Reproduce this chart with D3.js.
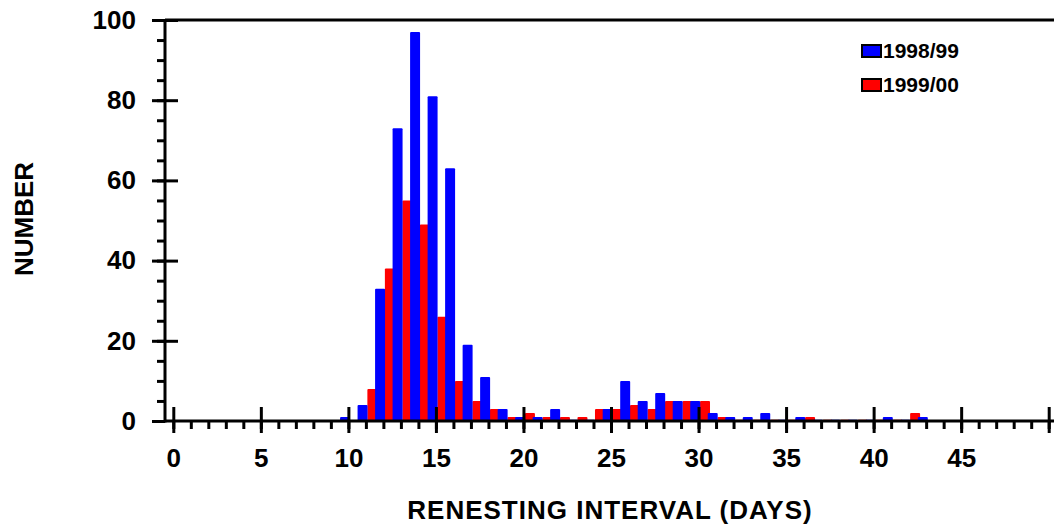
<!DOCTYPE html>
<html>
<head>
<meta charset="utf-8">
<script src="https://cdn.jsdelivr.net/npm/d3@7"></script>
<style>
	body { margin: 0; background: #fff; }
	text { font-family: Arial, "Liberation Sans", sans-serif; font-weight: bold; fill: #000; }
</style>
</head>
<body>
<div id="chart"></div>
<script>

// Renesting interval counts, one value per day
var days   = [10, 11, 12, 13, 14, 15, 16, 17, 18, 19, 20, 21, 22, 23, 24, 25, 26,
              27, 28, 29, 30, 31, 32, 33, 34, 35, 36, 37, 38, 39, 40, 41, 42, 43];
var season1 = [1, 4, 33, 73, 97, 81, 63, 19, 11, 3, 1, 1, 3, 0.3, 0.3, 3, 10,
              5, 7, 5, 5, 2, 1, 1, 2, 0.3, 1, 0.3, 0.3, 0.3, 0.3, 1, 0.3, 1];
var season2 = [0, 8, 38, 55, 49, 26, 10, 5, 3, 1, 2, 1, 1, 1, 3, 3, 4,
              3, 5, 5, 5, 1, 0.3, 0.3, 0.3, 0.3, 1, 0.3, 0.3, 0.3, 0.3, 0.3, 2, 0];
var seriesNames = ['1998/99', '1999/00'];
var seriesColors = ['#0000ff', '#ff0000'];
var xTicks = [0, 5, 10, 15, 20, 25, 30, 35, 40, 45];
var yTicks = [0, 20, 40, 60, 80, 100];

var width = 1054, height = 528;
var axisX = 165, axisY = 421, topY = 20;

var svg = d3.select('#chart').append('svg')
	.attr('width', width)
	.attr('height', height);

var x = d3.scaleLinear().domain([0, 50]).range([173.3, 1048.7]);
var y = d3.scaleLinear().domain([0, 100]).range([axisY, topY]);

// bar offsets in days, relative to the tick of that day
var barW = 0.57;
var offsets = [-0.475, 0.085];

// red drawn first, blue laid over it
[1, 0].forEach(function(s) {
	var vals = s === 0 ? season1 : season2;
	svg.append('g')
		.selectAll('rect')
		.data(days.map((d, i) => ({ day: d, v: vals[i] })).filter((d) => d.v > 0))
		.enter()
		.append('rect')
		.attr('x', (d) => x(d.day + offsets[s]))
		.attr('width', x(barW) - x(0))
		.attr('y', (d) => y(d.v))
		.attr('height', (d) => y(0) - y(d.v))
		.attr('rx', 1)
		.attr('fill', seriesColors[s]);
});

function styleAxis(g) {
	g.select('.domain').remove();
	g.selectAll('line').attr('stroke', '#000').attr('stroke-width', 3);
	g.selectAll('text').style('font-size', '26px');
}

var minorX = d3.range(0, 51);
var minorY = d3.range(0, 101, 5);

// x axis: minor, major outside (with labels), major inside
svg.append('g')
	.attr('transform', 'translate(0,' + axisY + ')')
	.call(d3.axisBottom(x).tickValues(minorX).tickSize(8).tickFormat(''))
	.call(styleAxis);
svg.append('g')
	.attr('transform', 'translate(0,' + axisY + ')')
	.call(d3.axisBottom(x).tickValues(xTicks.concat([50])).tickSize(12).tickPadding(16)
		.tickFormat((d) => d === 50 ? '' : d))
	.call(styleAxis);
svg.append('g')
	.attr('transform', 'translate(0,' + axisY + ')')
	.call(d3.axisTop(x).tickValues(xTicks.concat([50])).tickSize(14).tickFormat(''))
	.call(styleAxis);

// y axis
svg.append('g')
	.attr('transform', 'translate(' + axisX + ',0)')
	.call(d3.axisLeft(y).tickValues(minorY).tickSize(8).tickFormat(''))
	.call(styleAxis);
svg.append('g')
	.attr('transform', 'translate(' + axisX + ',0)')
	.call(d3.axisLeft(y).tickValues(yTicks).tickSize(13).tickPadding(16))
	.call(styleAxis);
svg.append('g')
	.attr('transform', 'translate(' + axisX + ',0)')
	.call(d3.axisRight(y).tickValues(yTicks.slice(1)).tickSize(13).tickFormat(''))
	.call(styleAxis);

// frame lines
svg.append('line')
	.attr('x1', axisX).attr('x2', width)
	.attr('y1', axisY).attr('y2', axisY)
	.attr('stroke', '#000').attr('stroke-width', 3);
svg.append('line')
	.attr('x1', axisX).attr('x2', width)
	.attr('y1', topY).attr('y2', topY)
	.attr('stroke', '#000').attr('stroke-width', 3);
svg.append('line')
	.attr('x1', axisX).attr('x2', axisX)
	.attr('y1', topY).attr('y2', axisY + 1.5)
	.attr('stroke', '#000').attr('stroke-width', 3);

// axis titles
svg.append('text')
	.attr('x', 610).attr('y', 519)
	.attr('text-anchor', 'middle')
	.style('font-size', '26px')
	.style('letter-spacing', '1px')
	.text('RENESTING INTERVAL (DAYS)');
svg.append('text')
	.attr('transform', 'translate(33,219) rotate(-90)')
	.attr('text-anchor', 'middle')
	.style('font-size', '26px')
	.text('NUMBER');

// legend
var legend = svg.append('g').attr('transform', 'translate(861,44)');
seriesNames.forEach(function(name, i) {
	var row = legend.append('g').attr('transform', 'translate(0,' + (i * 34) + ')');
	row.append('rect')
		.attr('x', 1).attr('y', 1)
		.attr('width', 19).attr('height', 12)
		.attr('fill', seriesColors[i])
		.attr('stroke', '#000').attr('stroke-width', 2);
	row.append('text')
		.attr('x', 22).attr('y', 14)
		.style('font-size', '21px')
		.text(name);
});

</script>
</body>
</html>
